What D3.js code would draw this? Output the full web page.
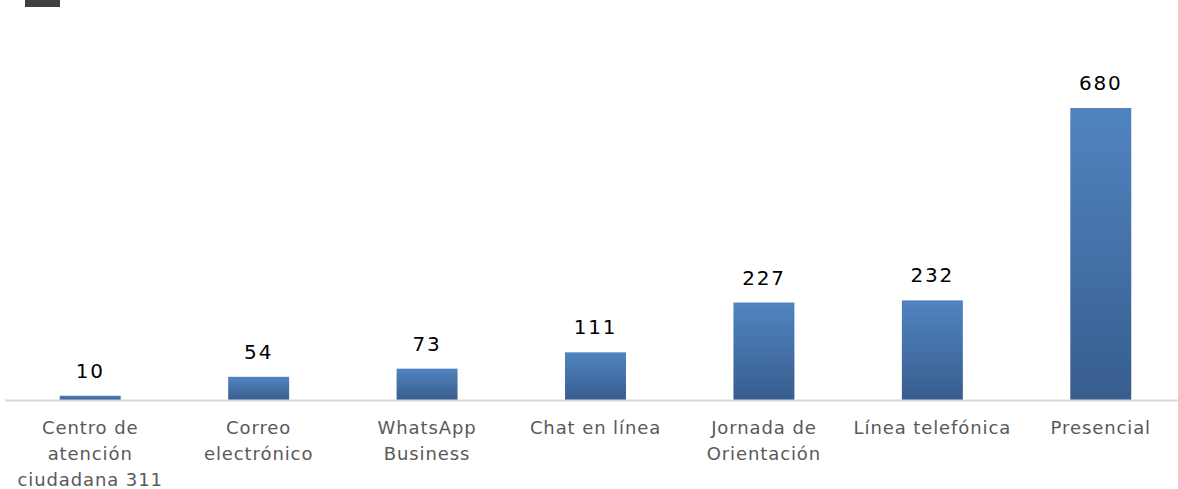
<!DOCTYPE html>
<html><head><meta charset="utf-8">
<script src="https://cdn.jsdelivr.net/npm/d3@7"></script>
<style>body{margin:0;background:#fff;}svg{display:block;}</style>
</head><body>
<svg id="c" width="1178" height="489"></svg>
<script>
const categories = [
  ["Centro de","atención","ciudadana 311"],
  ["Correo","electrónico"],
  ["WhatsApp","Business"],
  ["Chat en línea"],
  ["Jornada de","Orientación"],
  ["Línea telefónica"],
  ["Presencial"]
];
const values = [10, 54, 73, 111, 227, 232, 680];

const svg = d3.select("#c");
const W = 1178, H = 489;
const baseY = 400;
const x = d3.scaleBand().domain(d3.range(values.length)).range([6, 1185]).paddingInner(0.638).paddingOuter(0.319);
const y = d3.scaleLinear().domain([0, 680]).range([baseY, 108]);

const defs = svg.append("defs");
const g = defs.append("linearGradient").attr("id","bg").attr("x1",0).attr("y1",0).attr("x2",0).attr("y2",1);
g.append("stop").attr("offset","0%").attr("stop-color","#5084c0");
g.append("stop").attr("offset","100%").attr("stop-color","#385d8e");

// decorative slide element at top
svg.append("rect").attr("x",25).attr("y",0).attr("width",35).attr("height",7).attr("fill","#404040");

svg.selectAll("rect.bar").data(values).join("rect")
  .attr("class","bar")
  .attr("x",(d,i)=>x(i))
  .attr("width",x.bandwidth())
  .attr("y",d=>y(d))
  .attr("height",d=>baseY-y(d))
  .attr("fill","url(#bg)");

svg.append("line").attr("x1",5).attr("x2",W).attr("y1",baseY+0.5).attr("y2",baseY+0.5)
  .attr("stroke","#d9d9d9").attr("stroke-width",2);

svg.selectAll("text.val").data(values).join("text")
  .attr("class","val")
  .attr("x",(d,i)=>x(i)+x.bandwidth()/2)
  .attr("y",d=>y(d)-18)
  .attr("text-anchor","middle")
  .attr("font-family","'DejaVu Sans', sans-serif")
  .attr("font-size",20)
  .attr("letter-spacing",1.8)
  .attr("fill","#000")
  .text(d=>d);

const lab = svg.selectAll("text.cat").data(categories).join("text")
  .attr("class","cat")
  .attr("text-anchor","middle")
  .attr("font-family","'DejaVu Sans', sans-serif")
  .attr("font-size",18)
  .attr("letter-spacing",0.9)
  .attr("fill","#595959");
lab.each(function(d,i){
  const t = d3.select(this);
  d.forEach((line,j)=>{
    t.append("tspan").attr("x",x(i)+x.bandwidth()/2).attr("y",434+j*26).text(line);
  });
});
</script>
</body></html>
